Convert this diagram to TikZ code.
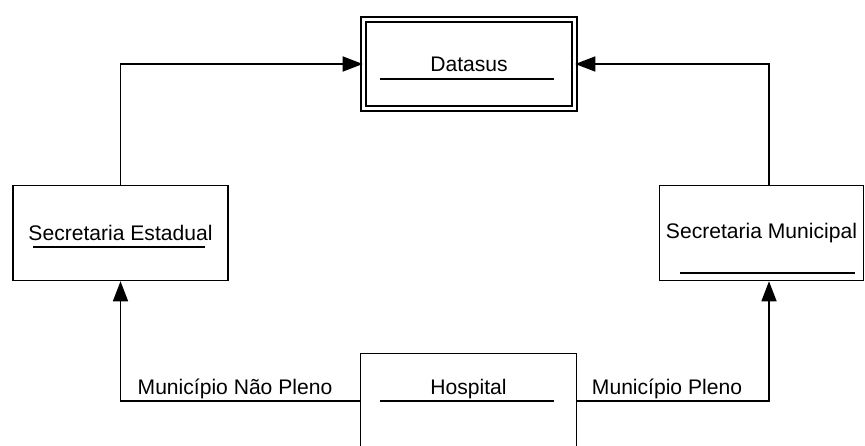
\documentclass[tikz,border=0pt]{standalone}
\usepackage{fontspec}
\setmainfont{Liberation Sans}
\usetikzlibrary{arrows.meta}

\tikzset{
  entity/.style={draw, line width=1.3pt, inner sep=0pt,
    font=\fontsize{18}{21}\selectfont},
  store/.style={entity, double, double distance=0.1cm},
  flow/.style={line width=1.3pt, -{Triangle[length=0.6cm, width=0.45cm]}},
  flowlabel/.style={inner sep=0pt, font=\fontsize{18}{21}\selectfont},
  bar/.style={line width=1.3pt},
}

\begin{document}
\begin{tikzpicture}[x=0.03cm, y=-0.03cm]
\clip (0,0) rectangle (865,445);

\node[store, minimum width=6.33cm, minimum height=2.67cm]
    (datasus) at (469,64) {Datasus};
\node[entity, minimum width=6.465cm, minimum height=2.85cm]
    (estadual) at (120.5,233) {Secretaria Estadual};
\node[entity, minimum width=6.12cm, minimum height=2.85cm]
    (municipal) at (761.5,233) {Secretaria Municipal};
\node[entity, minimum width=6.48cm, minimum height=2.85cm]
    (hospital) at (468.5,401) {};
\node[flowlabel] (hosptxt) at (468.5,389) {Hospital};

\draw[bar] (380,79) -- (554,79);
\draw[bar] (33,247) -- (205,247);
\draw[bar] (680,273) -- (855,273);
\draw[bar] (380,401) -- (554,401);

\coordinate (mcol) at (769,233);

\draw[flow] (estadual.north) |- (datasus.west);
\draw[flow] (municipal.north -| mcol) |- (datasus.east);
\draw[flow] (hospital.west) -| (estadual.south);
\draw[flow] (hospital.east) -| (municipal.south -| mcol);

\node[flowlabel] (naopleno) at (235,389) {Município Não Pleno};
\node[flowlabel] (pleno) at (667,389) {Município Pleno};
\end{tikzpicture}
\end{document}
